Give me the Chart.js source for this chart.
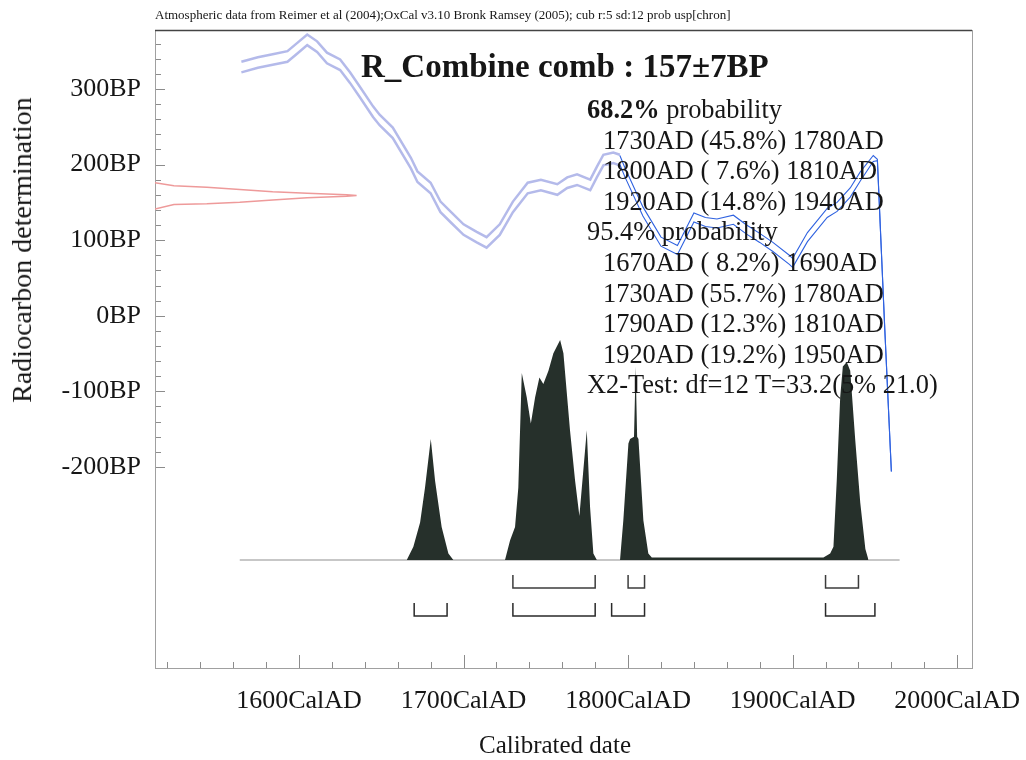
<!DOCTYPE html>
<html><head><meta charset="utf-8">
<script src="https://cdn.jsdelivr.net/npm/chart.js@4.4.1/dist/chart.umd.min.js"></script>
<style>
html,body{margin:0;padding:0;background:#fff;}
#wrap{position:relative;width:1026px;height:760px;overflow:hidden;font-family:"Liberation Serif","Times New Roman",serif;color:#161616;}
canvas{position:absolute;left:0;top:0;}
.t{position:absolute;white-space:pre;}
#prob div{height:30.6px;}
</style></head><body>
<div id="wrap">
<canvas id="c" width="1026" height="760" style="width:1026px;height:760px"></canvas>
<div class="t" id="hdr" style="left:155px;top:8px;font-size:13px;line-height:13px;"></div>
<div class="t" id="ttl" style="left:361px;top:50px;font-size:33px;line-height:32px;font-weight:bold;"></div>
<div class="t" id="prob" style="left:587px;top:94px;font-size:26.4px;line-height:30.6px;"></div>
<div class="t" id="xt" style="left:555px;top:730px;font-size:25px;line-height:30px;transform:translateX(-50%);">Calibrated date</div>
<div style="position:absolute;left:22px;top:250px;width:0;height:0;">
  <div class="t" style="left:0;top:0;font-size:28px;line-height:30px;transform:translate(-50%,-50%) rotate(-90deg);">Radiocarbon determination</div>
</div>
</div>
<script>
// ---------- data ----------
const headerText = "Atmospheric data from Reimer et al (2004);OxCal v3.10 Bronk Ramsey (2005); cub r:5 sd:12 prob usp[chron]";
const titleText = "R_Combine comb : 157\u00b17BP";

const xTickYears = [1600, 1700, 1800, 1900, 2000];
const yTickBP = [300, 200, 100, 0, -100, -200];

// calibration curve (light part)
const calYears = [1565,1575,1584,1593,1599,1605,1611,1617,1625,1631,1637,1645,1649,1657,1668,1672,1680,1686,1692,1700,1708,1714,1722,1730,1739,1747,1757,1763,1769,1777,1781,1785,1791,1795];
const calUpper = [336,342,346,350,361,372,363,348,339,322,303,277,266,249,209,191,176,151,138,121,111,104,121,151,176,180,174,183,187,180,197,213,216,213];
const calLower = [322,328,332,336,347,358,349,334,325,308,289,263,252,235,195,177,162,137,124,107,97,90,107,137,162,166,160,169,173,166,183,199,202,199];

// calibration curve (blue part, recent)
const blueYears = [1795,1798,1809,1820,1830,1840,1847,1854,1864,1872,1880,1888,1898,1900,1909,1921,1927,1935,1941,1949,1951.5,1956,1960];
const blueUpper = [212,196,144,104,93,136,130,128,133,120,109,97,80,76,110,142,150,169,190,212,207,-18,-206];
const blueLower = [200,184,132,92,81,124,118,116,121,108,97,85,68,64,98,130,138,157,178,204,205,-18,-206];

// radiocarbon measurement (drawn along the BP axis)
const redYears = [1512,1524,1544,1564,1584,1605,1629,1635];
const redUpper = [176,172,170,167,164,162,160,159];
const redLower = [141,147,148,150,153,156,158,159];

// calibrated probability distribution (relative)
const distYears = [1665.5,1669.5,1673.6,1676.6,1680.1,1682.7,1686.7,1690.8,1693.8,
  1725.2,1728.3,1731.3,1733.3,1735.4,1738.4,1740.9,1743.5,1746.1,1748.5,1751.6,1754.6,1758.7,1760.7,1764.7,1767.8,1770.4,1774.9,1776.9,1778.9,1781,
  1795.1,1797.1,1800.2,1801.2,1803.6,1804.6,1805.5,1806.3,1809.3,1812.3,1814.4,1860,1918.7,
  1922.8,1924.8,1926.8,1928.9,1930.5,1932.9,1935,1938,1941.1,1944.2,1946.1];
const distProb = [0,0.06,0.17,0.33,0.55,0.36,0.15,0.03,0,
  0,0.09,0.15,0.33,0.85,0.74,0.62,0.74,0.83,0.80,0.86,0.94,1.00,0.94,0.59,0.36,0.20,0.59,0.24,0.03,0,
  0,0.18,0.53,0.55,0.56,0.88,0.56,0.55,0.18,0.03,0.011,0.011,0.011,
  0.03,0.06,0.36,0.74,0.88,0.90,0.86,0.55,0.26,0.05,0];
const distBaseRange = [1564, 1965];

// probability ranges
const ranges68 = [[1730,1780],[1800,1810],[1920,1940]];
const pct68 = [45.8, 7.6, 14.8];
const ranges95 = [[1670,1690],[1730,1780],[1790,1810],[1920,1950]];
const pct95 = [8.2, 55.7, 12.3, 19.2];
const chiText = "X2-Test: df=12 T=33.2(5% 21.0)";

// ---------- text ----------
document.getElementById('hdr').textContent = headerText;
document.getElementById('ttl').textContent = titleText;
function rangeLine(r, p){
  let ps = p.toFixed(1); if (ps.length < 4) ps = ' ' + ps;
  return r[0] + 'AD (' + ps + '%) ' + r[1] + 'AD';
}
const prob = document.getElementById('prob');
function addLine(html, indent){ const d = document.createElement('div'); d.style.paddingLeft = indent + 'px'; d.innerHTML = html; prob.appendChild(d); }
addLine('<b>68.2%</b> probability', 0);
ranges68.forEach((r,i)=>addLine(rangeLine(r,pct68[i]), 16));
addLine('95.4% probability', 0);
ranges95.forEach((r,i)=>addLine(rangeLine(r,pct95[i]), 16));
addLine(chiText, -8);

// ---------- chart ----------
const FONT = '"Liberation Serif","Times New Roman",serif';
const pts = (xs, ys) => xs.map((x,i)=>({x, y: ys[i]}));
function bracketPts(ranges, top, bottom){
  const out = [];
  ranges.forEach(r=>{
    out.push({x:r[0], y:top},{x:r[0], y:bottom},{x:r[1], y:bottom},{x:r[1], y:top},{x:r[1], y:null});
  });
  return out;
}
const redPts = pts(redYears, redUpper).concat(pts(redYears.slice().reverse(), redLower.slice().reverse()));

const frame = {
  id: 'frame',
  beforeDatasetsDraw(chart){
    const ctx = chart.ctx, a = chart.chartArea, xs = chart.scales.x, ys = chart.scales.y;
    ctx.save();
    ctx.lineWidth = 1;
    ctx.strokeStyle = '#8c8c8c';
    for (let v = 1520; v <= 2000; v += 20){
      const px = Math.round(xs.getPixelForValue(v)) + 0.5;
      const len = v % 100 === 0 ? 13 : 6;
      ctx.beginPath(); ctx.moveTo(px, a.bottom); ctx.lineTo(px, a.bottom - len); ctx.stroke();
    }
    for (let v = -200; v <= 360; v += 20){
      const py = Math.round(ys.getPixelForValue(v)) + 0.5;
      const len = v % 100 === 0 ? 10 : 6;
      ctx.beginPath(); ctx.moveTo(a.left, py); ctx.lineTo(a.left + len, py); ctx.stroke();
    }
    ctx.strokeStyle = '#a0a0a0';
    ctx.strokeRect(Math.round(a.left)+0.5, Math.round(a.top)+0.5, Math.round(a.right-a.left), Math.round(a.bottom-a.top));
    ctx.strokeStyle = '#444';
    ctx.lineWidth = 1.5;
    ctx.beginPath(); ctx.moveTo(a.left, a.top+0.5); ctx.lineTo(a.right, a.top+0.5); ctx.stroke();
    ctx.restore();
  }
};

new Chart(document.getElementById('c'), {
  type: 'line',
  data: { datasets: [
    { data: pts(distYears, distProb), yAxisID: 'yp', fill: 'origin', backgroundColor: '#26302b', borderColor: 'rgba(0,0,0,0)', borderWidth: 0 },
    { data: bracketPts(ranges68, -0.068, -0.127), yAxisID: 'yp', borderColor: '#3c3c3c', borderWidth: 1.5, spanGaps: false },
    { data: bracketPts(ranges95, -0.195, -0.255), yAxisID: 'yp', borderColor: '#2a2a2a', borderWidth: 1.5, spanGaps: false },
    { data: distBaseRange.map(x=>({x, y:0})), yAxisID: 'yp', borderColor: '#b4b4b4', borderWidth: 1.5 },
    { data: pts(blueYears, blueUpper), yAxisID: 'y', borderColor: '#2f62e0', borderWidth: 1.1 },
    { data: pts(blueYears, blueLower), yAxisID: 'y', borderColor: '#2f62e0', borderWidth: 1.1 },
    { data: pts(calYears, calUpper), yAxisID: 'y', borderColor: 'rgba(172,178,232,0.9)', borderWidth: 2.5 },
    { data: pts(calYears, calLower), yAxisID: 'y', borderColor: 'rgba(172,178,232,0.9)', borderWidth: 2.5 },
    { data: redPts, yAxisID: 'y', borderColor: '#ee9a9a', borderWidth: 1.5 }
  ]},
  options: {
    responsive: false, animation: false, events: [],
    layout: { padding: { left: 0, top: 30, right: 54, bottom: 0 } },
    elements: { point: { radius: 0 }, line: { tension: 0 } },
    plugins: { legend: { display: false }, tooltip: { enabled: false }, title: { display: false } },
    scales: {
      x: {
        type: 'linear', min: 1512.5, max: 2009,
        afterBuildTicks: s => { s.ticks = xTickYears.map(v=>({value: v})); },
        afterFit: s => { s.height = 92; s.paddingLeft = 0; s.paddingRight = 0; },
        ticks: { callback: v => v + 'CalAD', font: { family: FONT, size: 26 }, color: '#161616', padding: 18, maxRotation: 0, autoSkip: false },
        grid: { display: false, drawTicks: false }, border: { display: false }
      },
      y: {
        type: 'linear', min: -466, max: 378,
        afterBuildTicks: s => { s.ticks = yTickBP.map(v=>({value: v})); },
        afterFit: s => { s.width = 155; s.paddingTop = 0; s.paddingBottom = 0; },
        ticks: { callback: v => v + 'BP', font: { family: FONT, size: 26 }, color: '#161616', padding: 14, autoSkip: false },
        grid: { display: false, drawTicks: false }, border: { display: false }
      },
      yp: { type: 'linear', display: false, min: -0.491, max: 2.409 }
    }
  },
  plugins: [frame]
});
</script>
</body></html>
